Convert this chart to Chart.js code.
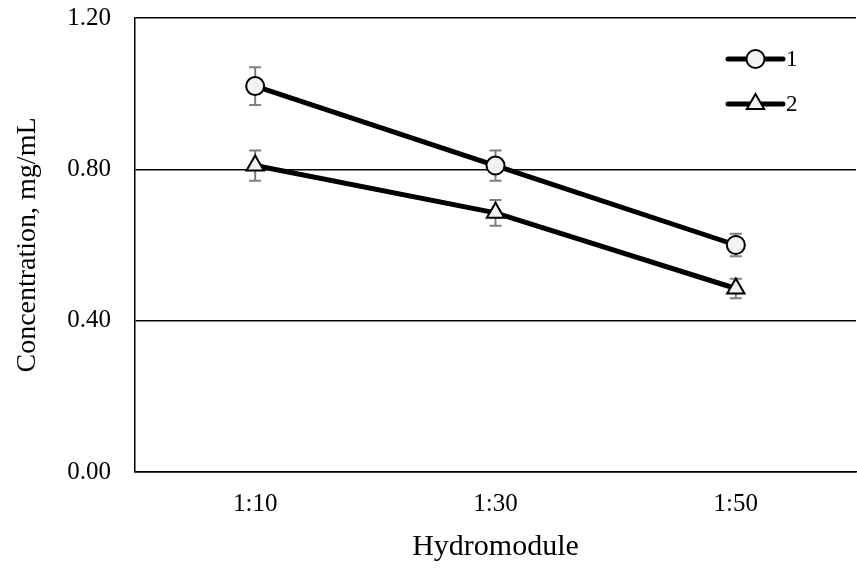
<!DOCTYPE html>
<html>
<head>
<meta charset="utf-8">
<script src="https://cdn.jsdelivr.net/npm/chart.js@4"></script>
<style>
  html, body { margin: 0; padding: 0; overflow: hidden; background: #fff; }
  #wrap { position: relative; width: 857px; height: 570px; }
  canvas { display: block; }
</style>
</head>
<body>
<div id="wrap"><canvas id="chart"></canvas></div>
<script>
// hydromodule ratios on the x axis
var categories = ["1:10", "1:30", "1:50"];
// mean concentration, mg/mL
var series1 = [1.02, 0.81, 0.60];
var series2 = [0.81, 0.685, 0.485];
// +/- error
var err1 = [0.05, 0.04, 0.03];
var err2 = [0.04, 0.034, 0.026];
var yTicks = [0, 0.4, 0.8, 1.2];

var serif = "'Liberation Serif', 'Times New Roman', serif";

// error bars go under the lines and markers
var errorBars = {
  id: "errorBars",
  beforeDatasetsDraw: function(chart) {
    var ctx = chart.ctx;
    var ys = chart.scales.y;
    ctx.save();
    ctx.strokeStyle = "#7f7f7f";
    ctx.lineWidth = 2;
    chart.data.datasets.forEach(function(ds, i) {
      var meta = chart.getDatasetMeta(i);
      meta.data.forEach(function(pt, j) {
        var e = ds.errors[j];
        var top = ys.getPixelForValue(ds.data[j] + e);
        var bot = ys.getPixelForValue(ds.data[j] - e);
        ctx.beginPath();
        ctx.moveTo(pt.x, top); ctx.lineTo(pt.x, bot);
        ctx.moveTo(pt.x - 6, top); ctx.lineTo(pt.x + 6, top);
        ctx.moveTo(pt.x - 6, bot); ctx.lineTo(pt.x + 6, bot);
        ctx.stroke();
      });
    });
    ctx.restore();
  }
};

// legend with a line running through the marker
var lineLegend = {
  id: "lineLegend",
  afterDraw: function(chart) {
    var ctx = chart.ctx;
    var x0 = 728, x1 = 783, y0 = 59, gap = 45;
    ctx.save();
    chart.data.datasets.forEach(function(ds, i) {
      var y = y0 + i * gap;
      ctx.strokeStyle = ds.borderColor;
      ctx.lineWidth = ds.borderWidth;
      ctx.lineCap = "round";
      ctx.beginPath();
      ctx.moveTo(x0, y); ctx.lineTo(x1, y);
      ctx.stroke();
      ctx.fillStyle = ds.pointBackgroundColor;
      ctx.strokeStyle = ds.pointBorderColor;
      ctx.lineWidth = ds.pointBorderWidth;
      Chart.helpers.drawPoint(ctx, {
        pointStyle: ds.pointStyle,
        radius: ds.pointRadius,
        borderWidth: ds.pointBorderWidth
      }, (x0 + x1) / 2, y);
      ctx.fillStyle = "#000";
      ctx.font = "23px " + serif;
      ctx.textBaseline = "middle";
      ctx.fillText(ds.label, x1 + 3, y + 1);
    });
    ctx.restore();
  }
};

var chart = new Chart(document.getElementById("chart"), {
  type: "line",
  data: {
    labels: categories,
    datasets: [
      {
        label: "1",
        data: series1,
        errors: err1,
        borderColor: "#000",
        borderWidth: 5,
        pointStyle: "circle",
        pointRadius: 9,
        pointBorderWidth: 2,
        pointBackgroundColor: "#f2f2f2",
        pointBorderColor: "#000"
      },
      {
        label: "2",
        data: series2,
        errors: err2,
        borderColor: "#000",
        borderWidth: 5,
        pointStyle: "triangle",
        pointRadius: 10,
        pointBorderWidth: 2,
        pointBackgroundColor: "#f2f2f2",
        pointBorderColor: "#000"
      }
    ]
  },
  options: {
    responsive: true,
    maintainAspectRatio: false,
    animation: false,
    layout: {
      autoPadding: false,
      padding: { top: 18, right: 1, left: 0, bottom: 0 }
    },
    plugins: {
      legend: { display: false },
      tooltip: { enabled: false }
    },
    scales: {
      x: {
        offset: true,
        afterFit: function(s) {
          s.height = 98;
          s.paddingLeft = 0;
          s.paddingRight = 0;
        },
        grid: { display: false, drawTicks: false },
        border: { display: true, color: "#000", width: 1.5 },
        ticks: { color: "#000", padding: 17, font: { family: serif, size: 25 } },
        title: {
          display: true,
          text: "Hydromodule",
          color: "#000",
          font: { family: serif, size: 30 },
          padding: { top: 0, bottom: 5 }
        }
      },
      y: {
        min: 0,
        max: 1.2,
        afterFit: function(s) {
          s.width = 135;
          s.paddingTop = 0;
          s.paddingBottom = 0;
        },
        afterBuildTicks: function(s) {
          s.ticks = yTicks.map(function(v) { return { value: v }; });
        },
        grid: { color: "#000", lineWidth: 1.5, drawTicks: false },
        border: { display: true, color: "#000", width: 1.5 },
        ticks: {
          color: "#000",
          padding: 24,
          font: { family: serif, size: 25 },
          callback: function(v) { return v.toFixed(2); }
        },
        title: {
          display: true,
          text: "Concentration, mg/mL",
          color: "#000",
          font: { family: serif, size: 28 },
          padding: { top: 11, bottom: 0 }
        }
      }
    }
  },
  plugins: [errorBars, lineLegend]
});
</script>
</body>
</html>
